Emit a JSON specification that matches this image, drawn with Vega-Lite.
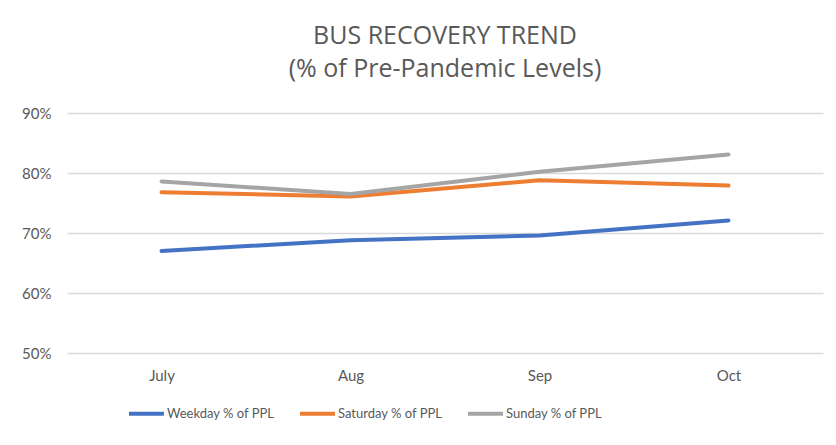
{
  "$schema": "https://vega.github.io/schema/vega-lite/v6.json",
  "autosize": {"type": "none"},
  "width": 756,
  "height": 240,
  "padding": {"left": 67, "top": 113, "right": 13, "bottom": 92},
  "background": "white",
  "title": {
    "text": ["BUS RECOVERY TREND", "(% of Pre-Pandemic Levels)"],
    "anchor": "middle",
    "font": "Open Sans",
    "fontSize": 25,
    "fontWeight": "normal",
    "color": "#595959",
    "lineHeight": 33,
    "offset": 24
  },
  "data": {
    "values": [
      {"month": "July", "series": "Weekday % of PPL", "value": 0.670},
      {"month": "Aug", "series": "Weekday % of PPL", "value": 0.688},
      {"month": "Sep", "series": "Weekday % of PPL", "value": 0.696},
      {"month": "Oct", "series": "Weekday % of PPL", "value": 0.721},
      {"month": "July", "series": "Saturday % of PPL", "value": 0.768},
      {"month": "Aug", "series": "Saturday % of PPL", "value": 0.761},
      {"month": "Sep", "series": "Saturday % of PPL", "value": 0.788},
      {"month": "Oct", "series": "Saturday % of PPL", "value": 0.779},
      {"month": "July", "series": "Sunday % of PPL", "value": 0.786},
      {"month": "Aug", "series": "Sunday % of PPL", "value": 0.765},
      {"month": "Sep", "series": "Sunday % of PPL", "value": 0.802},
      {"month": "Oct", "series": "Sunday % of PPL", "value": 0.831}
    ]
  },
  "mark": {"type": "line", "strokeWidth": 4, "strokeCap": "round", "strokeJoin": "round"},
  "encoding": {
    "x": {
      "field": "month",
      "type": "ordinal",
      "sort": ["July", "Aug", "Sep", "Oct"],
      "scale": {"type": "point", "padding": 0.5},
      "axis": {
        "title": null,
        "domain": false,
        "ticks": false,
        "grid": false,
        "labelAngle": 0,
        "labelFont": "Lato",
        "labelFontSize": 15,
        "labelColor": "#595959",
        "labelPadding": 15
      }
    },
    "y": {
      "field": "value",
      "type": "quantitative",
      "scale": {"domain": [0.5, 0.9], "nice": false},
      "axis": {
        "title": null,
        "values": [0.5, 0.6, 0.7, 0.8, 0.9],
        "format": ".0%",
        "domain": false,
        "ticks": false,
        "gridColor": "#d9d9d9",
        "gridWidth": 1.5,
        "labelFont": "Lato",
        "labelFontSize": 15,
        "labelColor": "#595959",
        "labelPadding": 16
      }
    },
    "color": {
      "field": "series",
      "type": "nominal",
      "sort": ["Weekday % of PPL", "Saturday % of PPL", "Sunday % of PPL"],
      "scale": {
        "domain": ["Weekday % of PPL", "Saturday % of PPL", "Sunday % of PPL"],
        "range": ["#4472C4", "#ED7D31", "#A5A5A5"]
      },
      "legend": {
        "title": null,
        "orient": "none",
        "direction": "horizontal",
        "legendX": 60,
        "legendY": 281,
        "symbolType": "stroke",
        "symbolSize": 1225,
        "symbolStrokeWidth": 4,
        "labelOffset": 1,
        "columnPadding": 17,
        "labelFont": "Lato",
        "labelFontSize": 13,
        "labelColor": "#595959"
      }
    }
  },
  "config": {"view": {"stroke": null}}
}
